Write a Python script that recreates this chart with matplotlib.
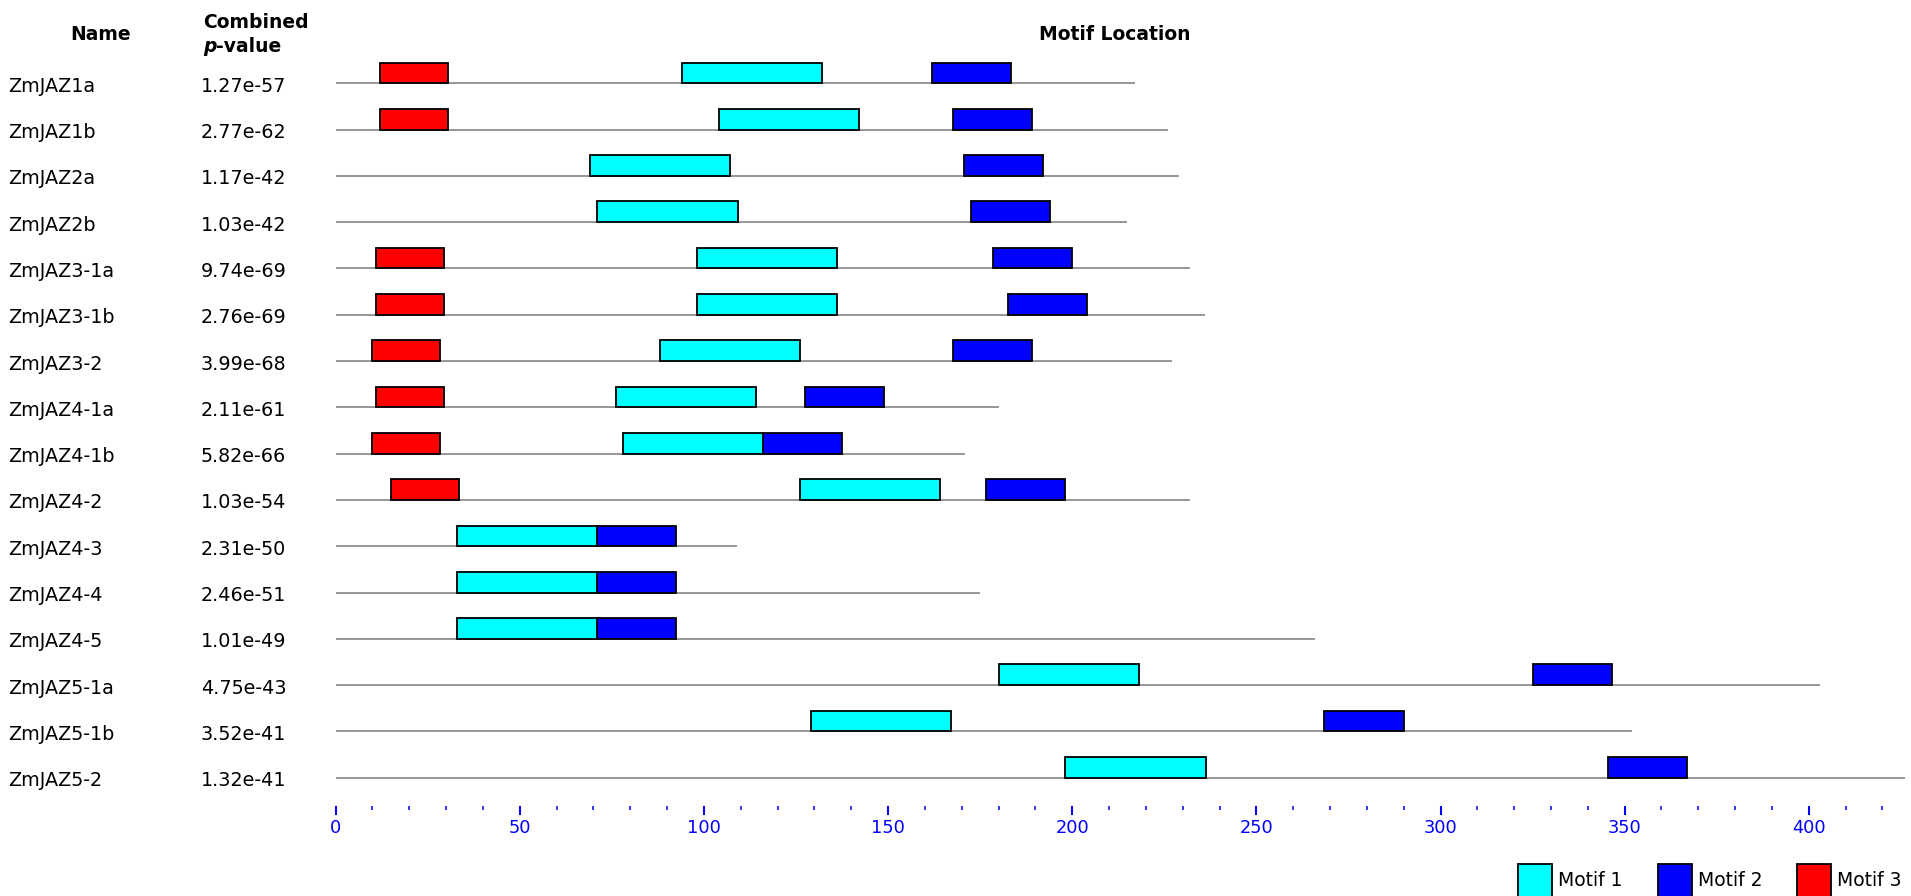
import matplotlib
matplotlib.use("Agg")
import matplotlib.pyplot as plt
from matplotlib.transforms import blended_transform_factory
from matplotlib.patches import Patch
from matplotlib.ticker import MultipleLocator

# ---------------- data ----------------
names = ["ZmJAZ1a", "ZmJAZ1b", "ZmJAZ2a", "ZmJAZ2b", "ZmJAZ3-1a", "ZmJAZ3-1b",
         "ZmJAZ3-2", "ZmJAZ4-1a", "ZmJAZ4-1b", "ZmJAZ4-2", "ZmJAZ4-3", "ZmJAZ4-4",
         "ZmJAZ4-5", "ZmJAZ5-1a", "ZmJAZ5-1b", "ZmJAZ5-2"]
pvalues = ["1.27e-57", "2.77e-62", "1.17e-42", "1.03e-42", "9.74e-69", "2.76e-69",
           "3.99e-68", "2.11e-61", "5.82e-66", "1.03e-54", "2.31e-50", "2.46e-51",
           "1.01e-49", "4.75e-43", "3.52e-41", "1.32e-41"]
seq_lengths = [217, 226, 229, 215, 232, 236, 227, 180, 171, 232, 109, 175, 266, 403, 352, 426]

motif_labels = ["Motif 1", "Motif 2", "Motif 3"]
motif_colors = ["#00ffff", "#0000ff", "#ff0000"]
motif_widths = [38.2, 21.5, 18.4]
motif1_starts = [94, 104, 69, 71, 98, 98, 88, 76, 78, 126, 33, 33, 33, 180, 129, 198]
motif2_starts = [162, 167.5, 170.5, 172.5, 178.5, 182.5, 167.5, 127.5, 116, 176.5, 71, 71, 71, 325, 268.5, 345.5]
motif3_starts = [12, 12, None, None, 11, 11, 10, 11, 10, 15, None, None, None, None, None, None]
motif_starts = [motif1_starts, motif2_starts, motif3_starts]

x_major = 50
x_minor = 10

# ---------------- layout (pixels) ----------------
W, H, DPI = 1911, 896, 100
x0_px = 335.6          # pixel of position 0
px_per_unit = 3.683
row0_px = 83.3         # y pixel of first sequence line
row_step = 46.3
axis_bottom_px = 806
box_h = 20.7 / row_step
text_dy = 3.0 / row_step

fig = plt.figure(figsize=(W / DPI, H / DPI), dpi=DPI)
fig.patch.set_facecolor("white")
ax = fig.add_axes([x0_px / W, 1 - axis_bottom_px / H, 1 - x0_px / W, axis_bottom_px / H])
ax.set_xlim(0, (W - x0_px) / px_per_unit)
ax.set_ylim((axis_bottom_px - row0_px) / row_step, -row0_px / row_step)

rows = list(range(len(names)))

# sequence lines
ax.hlines(rows, 0, seq_lengths, color="#858585", linewidth=1.2, zorder=1)

# motif boxes
for starts, w, col in zip(motif_starts, motif_widths, motif_colors):
    ys = [r - box_h for r, s in zip(rows, starts) if s is not None]
    xs = [s for s in starts if s is not None]
    ax.barh(ys, [w] * len(xs), left=xs, height=box_h, align="edge",
            color=col, edgecolor="black", linewidth=1.3, zorder=3)

# axis styling
for sp in ax.spines.values():
    sp.set_visible(False)
ax.set_yticks([])
ax.xaxis.set_major_locator(MultipleLocator(x_major))
ax.xaxis.set_minor_locator(MultipleLocator(x_minor))
ax.tick_params(axis="x", which="major", direction="out", length=6.2, width=1.5,
               color="#0000ff", labelcolor="#0000ff", labelsize=12.8, pad=3)
ax.tick_params(axis="x", which="minor", direction="out", length=2.6, width=1.1,
               color="#0000ff")

# row labels
trans = blended_transform_factory(fig.transFigure, ax.transData)
for r, n, p in zip(rows, names, pvalues):
    ax.text(8 / W, r + text_dy, n, transform=trans, ha="left", va="center",
            fontsize=13.8, color="black")
    ax.text(201 / W, r + text_dy, p, transform=trans, ha="left", va="center",
            fontsize=13.8, color="black")

# headers
hfs = 13.5
fig.text(101 / W, 1 - 35 / H, "Name", ha="center", va="center",
         fontsize=hfs, fontweight="bold")
fig.text(203 / W, 1 - 23 / H, "Combined", ha="left", va="center",
         fontsize=hfs, fontweight="bold")
ptxt = fig.text(203 / W, 1 - 46 / H, "p", ha="left", va="center",
                fontsize=hfs, fontweight="bold", fontstyle="italic")
ax.annotate("-value", xy=(1, 0), xycoords=ptxt, ha="left", va="bottom",
            fontsize=hfs, fontweight="bold", annotation_clip=False)
fig.text(1115 / W, 1 - 34 / H, "Motif Location", ha="center", va="center",
         fontsize=hfs, fontweight="bold")

# legend
fs = 13.5
fs_px = fs * DPI / 72
handles = [Patch(facecolor=c, edgecolor="black", linewidth=1.3, label=l)
           for c, l in zip(motif_colors, motif_labels)]
fig.legend(handles=handles, loc="upper left", bbox_to_anchor=(1518 / W, 1 - 864 / H),
           ncol=3, frameon=False, fontsize=fs, handlelength=34 / fs_px,
           handleheight=44 / fs_px, handletextpad=6 / fs_px, columnspacing=35 / fs_px,
           borderpad=0, borderaxespad=0)

fig.savefig("out.png", dpi=DPI)
